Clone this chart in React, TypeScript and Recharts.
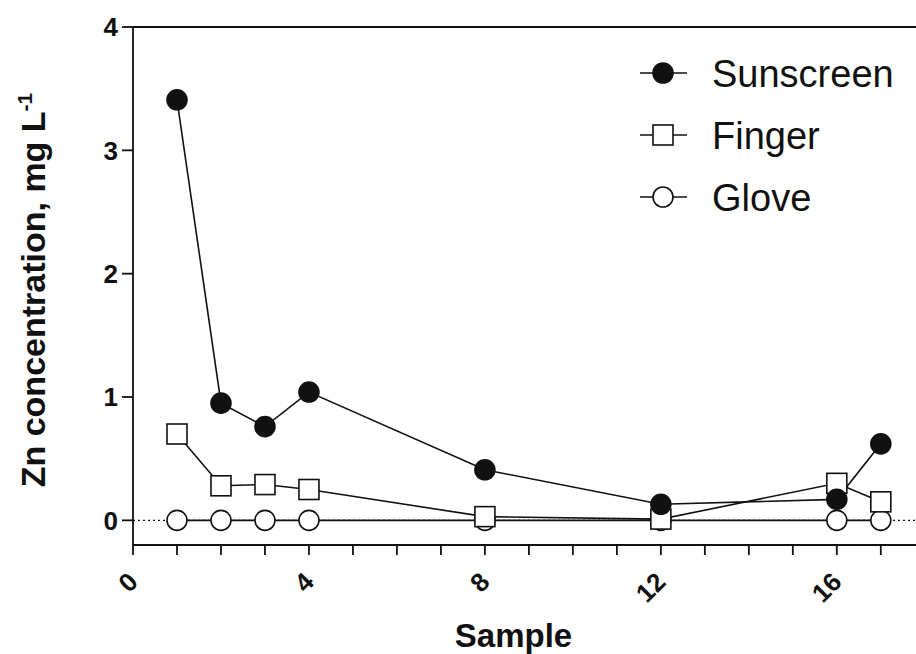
import React from 'react';
import {
  LineChart,
  Line,
  XAxis,
  YAxis,
  ReferenceLine
} from 'recharts';

const samples = [1, 2, 3, 4, 8, 12, 16, 17];
const sunscreen = [3.41, 0.95, 0.76, 1.04, 0.41, 0.13, 0.17, 0.62];
const finger = [0.7, 0.28, 0.29, 0.25, 0.03, 0.01, 0.3, 0.15];
const glove = [0, 0, 0, 0, 0, 0, 0, 0];

const xTicks = [0, 1, 2, 3, 4, 5, 6, 7, 8, 9, 10, 11, 12, 13, 14, 15, 16, 17];
const yTicks = [0, 1, 2, 3, 4];

type Shape = 'filledCircle' | 'square' | 'openCircle';

const SERIES: { key: string; name: string; shape: Shape }[] = [
  { key: 'sunscreen', name: 'Sunscreen', shape: 'filledCircle' },
  { key: 'finger', name: 'Finger', shape: 'square' },
  { key: 'glove', name: 'Glove', shape: 'openCircle' }
];

const data = samples.map((s, i) => ({
  sample: s,
  sunscreen: sunscreen[i],
  finger: finger[i],
  glove: glove[i]
}));

const FONT = '"Liberation Sans", Arial, Helvetica, sans-serif';
const INK = '#111';

const Marker = ({ cx, cy, shape, size = 10 }: { cx: number; cy: number; shape: Shape; size?: number }) => {
  if (cx == null || cy == null) return null;
  if (shape === 'square') {
    return <rect x={cx - size} y={cy - size} width={size * 2} height={size * 2} fill="#fff" stroke={INK} strokeWidth={1.6} />;
  }
  return (
    <circle
      cx={cx}
      cy={cy}
      r={size}
      fill={shape === 'filledCircle' ? INK : '#fff'}
      stroke={INK}
      strokeWidth={1.6}
    />
  );
};

const makeDot = (shape: Shape) => (props: any) => (
  <Marker key={`${shape}-${props.index}`} cx={props.cx} cy={props.cy} shape={shape} />
);

const XTick = (props: any) => {
  const { x, y, payload } = props;
  if (payload.value % 4 !== 0) return <g />;
  const ax = x;
  const ay = y + 20;
  return (
    <text
      x={ax}
      y={ay}
      dy="0.35em"
      textAnchor="end"
      transform={`rotate(-45, ${ax}, ${ay})`}
      fontFamily={FONT}
      fontWeight="bold"
      fontSize={26}
      fill={INK}
    >
      {payload.value}
    </text>
  );
};

const YLabel = (props: any) => {
  const vb = props.viewBox || { x: 0, y: 27, height: 518 };
  const cx = 45;
  const cy = vb.y + vb.height / 2 + 4;
  return (
    <text
      x={cx}
      y={cy}
      textAnchor="middle"
      transform={`rotate(-90, ${cx}, ${cy})`}
      fontFamily={FONT}
      fontWeight="bold"
      fontSize={34}
      fill={INK}
    >
      Zn concentration, mg L
      <tspan dy={-13} fontSize={21}>-1</tspan>
    </text>
  );
};

const XLabel = (props: any) => {
  const vb = props.viewBox || { x: 133, y: 545, width: 783 };
  return (
    <text
      x={vb.x + vb.width / 2 - 11}
      y={647}
      textAnchor="middle"
      fontFamily={FONT}
      fontWeight="bold"
      fontSize={33}
      fill={INK}
    >
      Sample
    </text>
  );
};

const LegendBox = () => (
  <svg width={286} height={190} style={{ position: 'absolute', left: 630, top: 40 }}>
    {SERIES.map((s, i) => {
      const cy = 33 + i * 62;
      return (
        <g key={s.key}>
          <line x1={10} x2={57} y1={cy} y2={cy} stroke={INK} strokeWidth={1.6} />
          <Marker cx={33} cy={cy} shape={s.shape} size={10} />
          <text x={82} y={cy + 14} fontFamily={FONT} fontSize={38} fill={INK}>
            {s.name}
          </text>
        </g>
      );
    })}
  </svg>
);

export default function App() {
  return (
    <div style={{ position: 'absolute', left: 0, top: 0, width: 916, height: 654, background: '#fff' }}>
      <LineChart
        width={916}
        height={654}
        data={data}
        margin={{ top: 27, right: 0, bottom: 0, left: 0 }}
      >
        <XAxis
          dataKey="sample"
          type="number"
          domain={[0, 17.8]}
          ticks={xTicks}
          interval={0}
          allowDataOverflow
          height={109}
          tickSize={10}
          tick={<XTick />}
          axisLine={{ stroke: INK, strokeWidth: 1.8 }}
          tickLine={{ stroke: INK, strokeWidth: 1.8 }}
          label={{ content: <XLabel /> }}
        />
        <YAxis
          type="number"
          domain={[-0.2, 4]}
          ticks={yTicks}
          interval={0}
          allowDataOverflow
          width={133}
          tickSize={11}
          tickMargin={4}
          tick={{ fill: INK, fontSize: 26, fontWeight: 'bold', fontFamily: FONT }}
          axisLine={{ stroke: INK, strokeWidth: 1.8 }}
          tickLine={{ stroke: INK, strokeWidth: 1.8 }}
          label={{ content: <YLabel /> }}
        />
        <ReferenceLine y={4} stroke={INK} strokeWidth={1.8} />
        <ReferenceLine y={0} stroke={INK} strokeWidth={1.4} strokeDasharray="2 3" />
        {[...SERIES].reverse().map(s => (
          <Line
            key={s.key}
            type="linear"
            dataKey={s.key}
            name={s.name}
            stroke={INK}
            strokeWidth={1.6}
            dot={makeDot(s.shape)}
            activeDot={false}
            isAnimationActive={false}
          />
        ))}
      </LineChart>
      <LegendBox />
    </div>
  );
}
